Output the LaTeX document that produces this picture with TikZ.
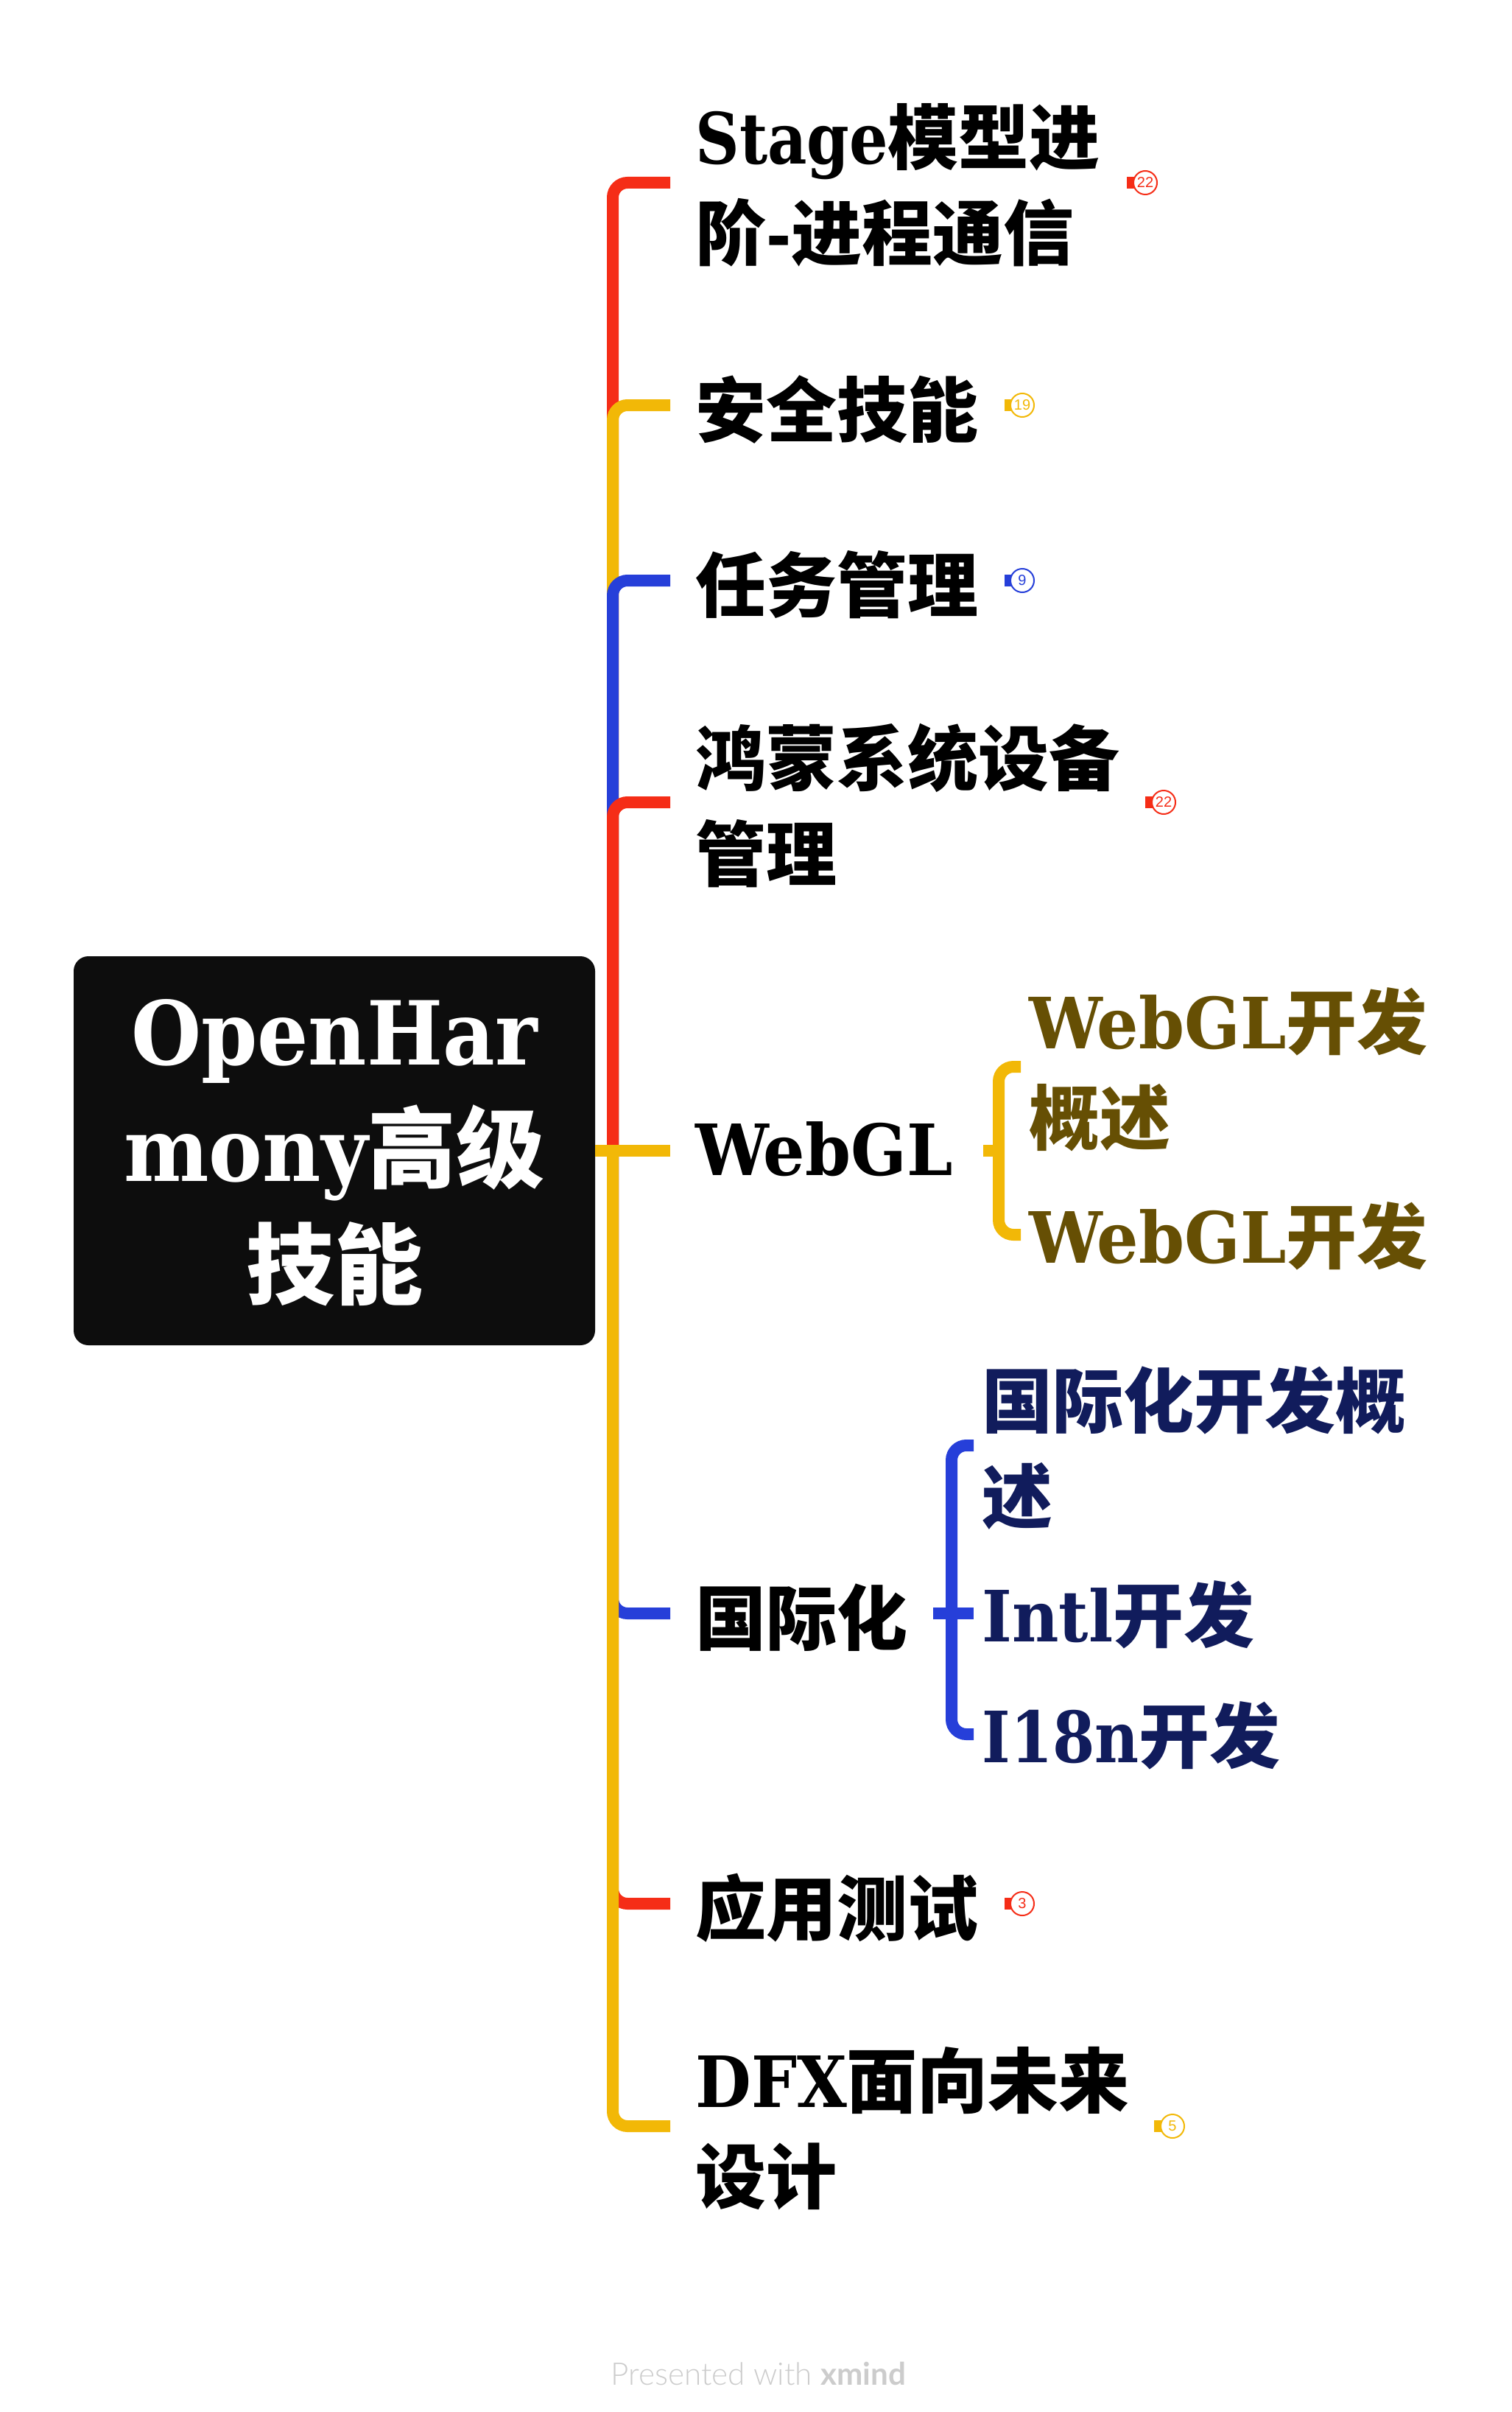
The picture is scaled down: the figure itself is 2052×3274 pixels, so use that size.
\documentclass[tikz,border=0pt]{standalone}
\usepackage{fontspec}
\setmainfont{DejaVu Serif}[FakeStretch=0.91]
\newfontfamily\tighter{DejaVu Serif}[FakeStretch=0.86]
\newfontfamily\looser{DejaVu Serif}[FakeStretch=0.925]
\newfontfamily\zhfont{Noto Sans CJK SC}
\newfontfamily\tallyfont{Liberation Sans}
\newfontfamily\footfont{Lato}[UprightFont=* Light, BoldFont=* Bold]
\newcommand{\zh}[1]{{\zhfont\bfseries #1}}
\definecolor{mapred}{HTML}{F52D17}
\definecolor{mapyellow}{HTML}{F2B807}
\definecolor{mapblue}{HTML}{263FD9}
\definecolor{mapnavy}{HTML}{111C5C}
\definecolor{mapbrown}{HTML}{664F04}
\definecolor{mapblack}{HTML}{0D0D0D}
\tikzset{
    rootbox/.style={fill=mapblack, text=white, rounded corners=10pt, align=center,
        minimum width=354pt, minimum height=264pt, inner sep=0pt,
        font=\fontsize{60}{79}\selectfont\bfseries},
    topic/.style={anchor=west, align=left, inner xsep=17pt, inner ysep=0pt,
        font=\fontsize{48}{65}\selectfont\bfseries},
    subtopic/.style={topic, inner xsep=5.5pt},
    branch/.style={line width=8pt, rounded corners=10pt},
    tally/.style={circle, draw=#1, text=#1, fill=white, line width=1pt, minimum size=16pt, inner sep=0pt,
        font=\fontsize{10}{10}\tallyfont},
    tallytag/.style={rectangle, fill=#1, minimum width=10pt, minimum height=8pt, inner sep=0pt},
}
\begin{document}
\begin{tikzpicture}[x=.5pt, y=-.5pt]
    \useasboundingbox (0, 0) rectangle (2052, 3274);

    % Central topic
    \node[rootbox, text height=199pt, text depth=0pt] (root) at (454, 1562) {OpenHar\\mony\zh{高级}\\\zh{技能}};
    \coordinate (rootfork) at (832, 1562);

    % Main topics
    \node[topic, text height=105pt, text depth=0pt] (stage) at (910, 248) {{\tighter Stage}\zh{模型进}\\\zh{阶}{\tighter -}\zh{进程通信}};
    \node[topic, text height=42pt, text depth=0pt] (safety) at (910, 550) {\zh{安全技能}};
    \node[topic, text height=42pt, text depth=0pt] (task) at (910, 788) {\zh{任务管理}};
    \node[topic, text height=106pt, text depth=0pt] (device) at (910, 1089) {\zh{鸿蒙系统设备}\\\zh{管理}};
    \node[topic, text height=33pt, text depth=0pt] (webgl) at (910, 1562) {{\looser WebGL}};
    \node[topic, text height=42pt, text depth=0pt] (intl) at (910, 2190) {\zh{国际化}};
    \node[topic, text height=42pt, text depth=0pt] (testing) at (910, 2584) {\zh{应用测试}};
    \node[topic, text height=104pt, text depth=0pt] (dfx) at (910, 2886) {DFX\zh{面向未来}\\\zh{设计}};

    % Subtopics
    \node[subtopic, text=mapbrown, text height=105pt, text depth=0pt] (webgla) at (1386, 1448) {{\looser WebGL}\zh{开发}\\\zh{概述}};
    \node[subtopic, text=mapbrown, text height=38pt, text depth=0pt] (webglb) at (1386, 1676) {{\looser WebGL}\zh{开发}};
    \node[subtopic, text=mapnavy, text height=105pt, text depth=0pt] (intla) at (1322, 1962) {\zh{国际化开发概}\\\zh{述}};
    \node[subtopic, text=mapnavy, text height=38pt, text depth=0pt] (intlb) at (1322, 2190) {Intl\zh{开发}};
    \node[subtopic, text=mapnavy, text height=38pt, text depth=0pt] (intlc) at (1322, 2354) {{\tighter I18n}\zh{开发}};

    % Connectors, later ones cover earlier ones on the trunk
    \draw[branch, mapred] (rootfork) |- (stage.west);
    \draw[branch, mapyellow] (rootfork) |- (safety.west);
    \draw[branch, mapblue] (rootfork) |- (task.west);
    \draw[branch, mapred] (rootfork) |- (device.west);
    \draw[branch, mapblue] (rootfork) |- (intl.west);
    \draw[branch, mapred] (rootfork) |- (testing.west);
    \draw[branch, mapyellow] (rootfork) |- (dfx.west);
    \draw[line width=8pt, mapyellow] (root.east) -- (webgl.west);

    % Forks to the subtopics
    \coordinate (webglfork) at (1356, 1562);
    \coordinate (intlfork) at (1292, 2190);
    \draw[line width=8pt, mapyellow] ([xshift=3.5pt]webgl.east) -- (webglfork);
    \draw[branch, mapyellow] (webglfork) |- (webgla.west);
    \draw[branch, mapyellow] (webglfork) |- (webglb.west);
    \draw[line width=8pt, mapblue] (intl.east) -- (intlb.west);
    \draw[branch, mapblue] (intlfork) |- (intla.west);
    \draw[branch, mapblue] (intlfork) |- (intlc.west);

    % Counters behind the collapsed topics
    \node[tallytag=mapred] (stagetag) at (1540, 248) {};
    \node[tally=mapred] (stagetally) at (1555, 248) {22};
    \node[tallytag=mapyellow] (safetytag) at (1374, 550) {};
    \node[tally=mapyellow] (safetytally) at (1388, 550) {19};
    \node[tallytag=mapblue] (tasktag) at (1374, 788) {};
    \node[tally=mapblue] (tasktally) at (1388, 788) {9};
    \node[tallytag=mapred] (devicetag) at (1565, 1089) {};
    \node[tally=mapred] (devicetally) at (1580, 1089) {22};
    \node[tallytag=mapred] (testingtag) at (1374, 2584) {};
    \node[tally=mapred] (testingtally) at (1388, 2584) {3};
    \node[tallytag=mapyellow] (dfxtag) at (1577, 2886) {};
    \node[tally=mapyellow] (dfxtally) at (1592, 2886) {5};

    % Footer
    \node[anchor=base, text=black!20, font=\fontsize{21.1}{22}\footfont] (footer) at (1030, 3237)
        {Presented with \textbf{xmind}};
\end{tikzpicture}
\end{document}
